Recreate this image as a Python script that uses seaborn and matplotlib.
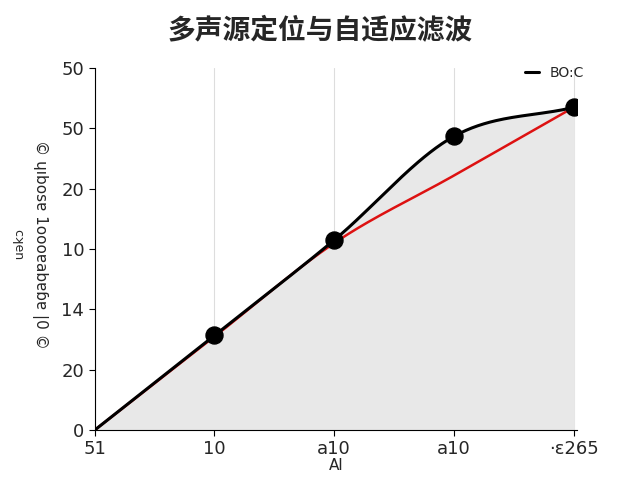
import numpy as np
import matplotlib
matplotlib.use("Agg")
import matplotlib.pyplot as plt
import seaborn as sns

sns.set_style("white")
plt.rcParams['font.family'] = ['DejaVu Sans', 'Noto Sans CJK SC']

x_pos = [0, 1, 2, 3, 4]
x_labels = ["51", "10", "a10", "a10", "·ɛ265"]
y_labels = ["0", "20", "14", "10", "20", "50", "50"]
black_vals = [0.0, 1.57, 3.15, 4.87, 5.35]
red_vals = [0.0, 1.55, 3.1, 4.22, 5.35]

def catmull(xs, ys, n=60):
    xs = np.asarray(xs, float); ys = np.asarray(ys, float)
    px = np.concatenate([[2*xs[0]-xs[1]], xs, [2*xs[-1]-xs[-2]]])
    py = np.concatenate([[2*ys[0]-ys[1]], ys, [2*ys[-1]-ys[-2]]])
    outx, outy = [], []
    for i in range(1, len(px) - 2):
        t = np.linspace(0, 1, n, endpoint=False)
        for arr, out in ((px, outx), (py, outy)):
            p0, p1, p2, p3 = arr[i-1], arr[i], arr[i+1], arr[i+2]
            out.extend(0.5*((2*p1) + (-p0+p2)*t + (2*p0-5*p1+4*p2-p3)*t**2 + (-p0+3*p1-3*p2+p3)*t**3))
    outx.append(xs[-1]); outy.append(ys[-1])
    return np.array(outx), np.array(outy)

fig, ax = plt.subplots(figsize=(6.4, 4.8), dpi=100)
fig.subplots_adjust(left=0.148, right=0.902, top=0.858, bottom=0.104)

bx, by = catmull(x_pos, black_vals)
rx, ry = catmull(x_pos, red_vals)
ax.fill_between(bx, 0, by, color="#e8e8e8", zorder=1)
sns.lineplot(x=rx, y=ry, ax=ax, color="#dd1111", lw=1.8, zorder=3, sort=False)
sns.lineplot(x=bx, y=by, ax=ax, color="black", lw=2.2, zorder=4, label="BO:C", sort=False)
sns.scatterplot(x=x_pos[1:], y=black_vals[1:], ax=ax, color="black", s=150, zorder=5, edgecolor="black")

ax.set_xlim(0, 4.03)
ax.set_ylim(0, 6)
ax.set_xticks(x_pos)
ax.set_xticklabels(x_labels, fontsize=13)
ax.set_yticks(range(7))
ax.set_yticklabels(y_labels, fontsize=13)
ax.grid(True, axis="x", color="#dddddd", lw=0.8)
for s in ["top", "right"]:
    ax.spines[s].set_visible(False)
ax.spines["left"].set_color("black"); ax.spines["bottom"].set_color("black")
ax.tick_params(axis="both", length=4, color="black", left=True, bottom=True)
ax.set_xlabel("Al", fontsize=11, labelpad=0)
ax.set_ylabel("")
fig.text(0.062, 0.49, "© ɥıbosɐ 1oooɐabɐɓɐ |0 ©", rotation=-90, fontsize=11, ha="center", va="center")
fig.text(0.028, 0.49, "cʞen", rotation=-90, fontsize=9, ha="center", va="center")
ax.legend(loc="upper right", frameon=False, fontsize=10, handlelength=1, bbox_to_anchor=(1.04, 1.04))
fig.suptitle("多声源定位与自适应滤波", fontsize=20, fontweight="bold", y=0.965)
fig.savefig("out.png", dpi=100)
